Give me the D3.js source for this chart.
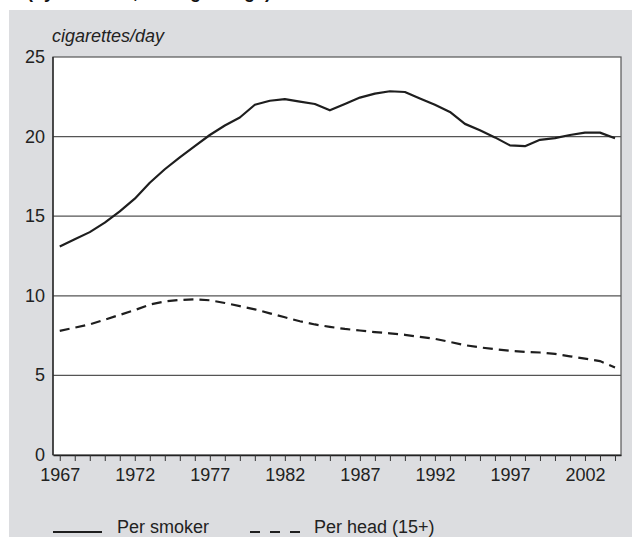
<!DOCTYPE html>
<html>
<head>
<meta charset="utf-8">
<script src="https://cdn.jsdelivr.net/npm/d3@7"></script>
<style>
  body { margin: 0; background: #fff; }
  svg { display: block; font-family: "Liberation Sans", Arial, sans-serif; }
</style>
</head>
<body>
<script>
const w = 632;
const h = 537;

const years = d3.range(1967, 2005);
const perSmoker = [13.1, 13.55, 14.0, 14.6, 15.3, 16.1, 17.1, 17.95, 18.7, 19.4,
  20.1, 20.7, 21.2, 22.0, 22.25, 22.35, 22.2, 22.05, 21.65, 22.05,
  22.45, 22.7, 22.85, 22.8, 22.4, 22.0, 21.55, 20.8, 20.4, 19.95,
  19.45, 19.4, 19.8, 19.9, 20.1, 20.25, 20.25, 19.9];
const perHead = [7.8, 8.0, 8.2, 8.5, 8.8, 9.1, 9.45, 9.65, 9.74, 9.78,
  9.72, 9.55, 9.35, 9.15, 8.9, 8.65, 8.4, 8.2, 8.05, 7.92,
  7.82, 7.72, 7.64, 7.55, 7.42, 7.3, 7.1, 6.9, 6.76, 6.65,
  6.55, 6.48, 6.44, 6.35, 6.2, 6.05, 5.9, 5.5];
const yTicks = [0, 5, 10, 15, 20, 25];
const xLabels = [1967, 1972, 1977, 1982, 1987, 1992, 1997, 2002];
const seriesNames = ['Per smoker', 'Per head (15+)'];

const pl = 53, pr = 621, pt = 57, pb = 455;

const svg = d3.select('body').append('svg').attr('width', w).attr('height', h);

// grey panel
svg.append('rect').attr('x', 9).attr('y', 10).attr('width', w - 9).attr('height', h - 10).attr('fill', '#dcdde0');

// title sits above the crop, only its descenders show
svg.append('text').attr('x', 27).attr('y', -2).attr('font-size', 18).attr('font-weight', 'bold')
  .attr('fill', '#111').text('(by smokers, average range)');

const x = d3.scaleLinear().domain([1966.55, 2004.4]).range([pl, pr]);
const y = d3.scaleLinear().domain([0, 25]).range([pb, pt]);

// plot area
svg.append('rect').attr('x', pl).attr('y', pt).attr('width', pr - pl).attr('height', pb - pt)
  .attr('fill', '#fff').attr('stroke', '#555').attr('stroke-width', 1.2);

// gridlines
svg.selectAll('.grid').data(yTicks.filter(d => d > 0 && d < 25)).enter()
  .append('line')
  .attr('x1', pl).attr('x2', pr)
  .attr('y1', d => y(d)).attr('y2', d => y(d))
  .attr('stroke', '#555').attr('stroke-width', 1.2);

// y labels
svg.selectAll('.ylab').data(yTicks).enter()
  .append('text')
  .attr('x', 45).attr('y', d => y(d) + 6)
  .attr('text-anchor', 'end').attr('font-size', 18).attr('fill', '#222')
  .text(d => d);

svg.append('text').attr('x', 52).attr('y', 42).attr('font-size', 18).attr('font-style', 'italic')
  .attr('fill', '#222').text('cigarettes/day');

// x axis
const xAxis = d3.axisBottom(x).tickValues(years).tickSize(6).tickSizeOuter(0)
  .tickFormat(d => xLabels.includes(d) ? d : '');
const gx = svg.append('g').attr('transform', 'translate(0,' + pb + ')').call(xAxis);
gx.select('.domain').attr('stroke', '#222').attr('stroke-width', 1.3);
gx.selectAll('.tick line').attr('stroke', '#333');
gx.selectAll('.tick text').attr('font-size', 18).attr('fill', '#222').attr('dy', 0).attr('y', 26)
  .attr('font-family', '"Liberation Sans", Arial, sans-serif');

// left axis line
svg.append('line').attr('x1', pl).attr('x2', pl).attr('y1', pt).attr('y2', pb)
  .attr('stroke', '#222').attr('stroke-width', 1.3);

const line = d3.line().x((d, i) => x(years[i])).y(d => y(d));

svg.append('path').datum(perSmoker).attr('d', line)
  .attr('fill', 'none').attr('stroke', '#1e1e1e').attr('stroke-width', 2.2).attr('stroke-linejoin', 'round');
svg.append('path').datum(perHead).attr('d', line)
  .attr('fill', 'none').attr('stroke', '#1e1e1e').attr('stroke-width', 2.2).attr('stroke-dasharray', '10,6');

// legend
const legend = svg.append('g');
legend.append('line').attr('x1', 53).attr('x2', 102).attr('y1', 532).attr('y2', 532)
  .attr('stroke', '#1e1e1e').attr('stroke-width', 2.2);
legend.append('text').attr('x', 117).attr('y', 533).attr('font-size', 18).attr('fill', '#222').text(seriesNames[0]);
legend.append('line').attr('x1', 250).attr('x2', 300).attr('y1', 532).attr('y2', 532)
  .attr('stroke', '#1e1e1e').attr('stroke-width', 2.2).attr('stroke-dasharray', '10,10');
legend.append('text').attr('x', 314).attr('y', 533).attr('font-size', 18).attr('fill', '#222').text(seriesNames[1]);
</script>
</body>
</html>
